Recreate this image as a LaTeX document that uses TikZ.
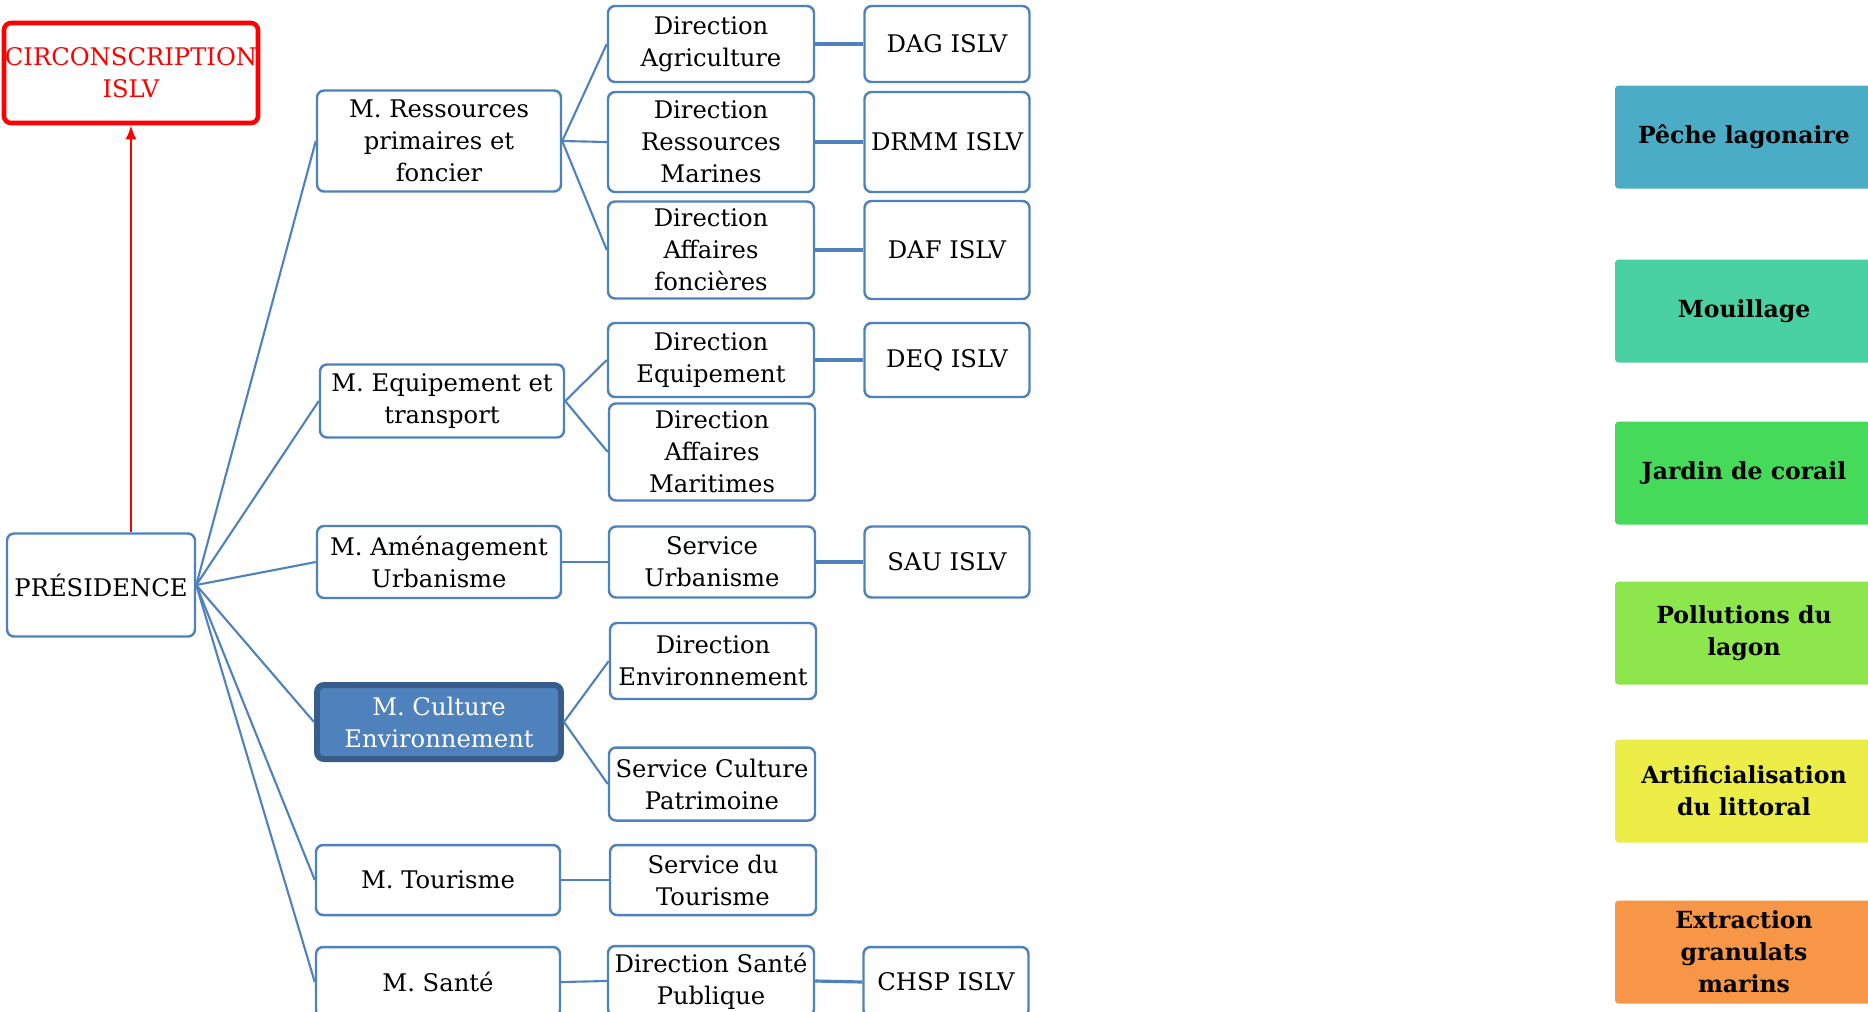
\documentclass[tikz,border=0pt]{standalone}
\usepackage{fontspec}
\setmainfont{DejaVu Serif}
\usetikzlibrary{arrows.meta}

\definecolor{orgblue}{HTML}{4F81BD}
\definecolor{orgdark}{HTML}{385D8A}
\definecolor{peche}{HTML}{4BACC6}
\definecolor{mouil}{HTML}{49D1A3}
\definecolor{jardin}{HTML}{46DA5A}
\definecolor{pollu}{HTML}{8DE64B}
\definecolor{artif}{HTML}{EDED47}
\definecolor{extra}{HTML}{F79646}

\tikzset{
  every node/.style={font=\fontsize{6.9}{9.1}\selectfont, align=center, inner sep=0pt},
  unit/.style={draw=orgblue, line width=0.7pt, rounded corners=2pt, fill=white, minimum height=#1},
  ministry/.style={unit=#1, minimum width=24.4mm},
  direction/.style={unit=#1, minimum width=20.6mm},
  islv/.style={unit=#1, minimum width=16.5mm},
  threat/.style={fill=#1, rounded corners=1pt, minimum width=25.8mm, minimum height=10.3mm,
    font=\fontsize{6.7}{9.1}\selectfont\bfseries},
  link/.style={draw=orgblue, line width=0.6pt},
}

\begin{document}
\begin{tikzpicture}[x=0.1mm,y=-0.1mm]
        \useasboundingbox (0,0) rectangle (1868,1011);

        % Top
        \node[draw=red, line width=1.3pt, rounded corners=2pt, text=red,
              minimum width=25.4mm, minimum height=10mm] (circ) at (131,73) {CIRCONSCRIPTION\\ISLV};
        \node[unit=10.3mm, minimum width=18.8mm] (pres) at (101,585) {PRÉSIDENCE};

        % Ministries
        \node[ministry=10.1mm] (mres) at (439,141) {M. Ressources\\primaires et\\foncier};
        \node[ministry=7.3mm]  (mequ) at (442,401) {M. Equipement et\\transport};
        \node[ministry=7.2mm]  (mame) at (439,562) {M. Aménagement\\Urbanisme};
        \node[ministry=7.4mm, fill=orgblue, draw=orgdark, line width=1.7pt, text=white]
                               (mcul) at (439,722) {M. Culture\\Environnement};
        \node[ministry=7mm]    (mtou) at (438,880) {M. Tourisme};
        \node[ministry=7mm]    (msan) at (438,982) {M. Santé};

        % Directions
        \node[direction=7.6mm]  (dagr) at (711,44)  {Direction\\Agriculture};
        \node[direction=10mm]   (drmm) at (711,142) {Direction\\Ressources\\Marines};
        \node[direction=9.7mm]  (dafo) at (711,250) {Direction\\Affaires\\foncières};
        \node[direction=7.4mm]  (dequ) at (711,360) {Direction\\Equipement};
        \node[direction=9.7mm]  (dama) at (712,452) {Direction\\Affaires\\Maritimes};
        \node[direction=7.1mm]  (surb) at (712,562) {Service\\Urbanisme};
        \node[direction=7.6mm]  (denv) at (713,661) {Direction\\Environnement};
        \node[direction=7.3mm]  (scul) at (712,784) {Service Culture\\Patrimoine};
        \node[direction=7mm]    (stou) at (713,880) {Service du\\Tourisme};
        \node[direction=7mm]    (dsan) at (711,981) {Direction Santé\\Publique};

        % ISLV services
        \node[islv=7.6mm] (dag)  at (947,44)  {DAG ISLV};
        \node[islv=10mm]  (drm)  at (947,142) {DRMM ISLV};
        \node[islv=9.8mm] (daf)  at (947,250) {DAF ISLV};
        \node[islv=7.4mm] (deq)  at (947,360) {DEQ ISLV};
        \node[islv=7.1mm] (sau)  at (947,562) {SAU ISLV};
        \node[islv=7mm]   (chsp) at (946,982) {CHSP ISLV};

        % Threats
        \node[threat=peche] (t1) at (1744,137) {Pêche lagonaire};
        \node[threat=mouil] (t2) at (1744,311) {Mouillage};
        \node[threat=jardin] (t3) at (1744,473) {Jardin de corail};
        \node[threat=pollu] (t4) at (1744,633) {Pollutions du\\lagon};
        \node[threat=artif] (t5) at (1744,791) {Artificialisation\\du littoral};
        \node[threat=extra] (t6) at (1744,952) {Extraction\\granulats\\marins};

        % Links
        \draw[red, line width=0.6pt, -{Latex[length=1.4mm,width=1.1mm]}] (pres.north -| circ.south) -- (circ.south);
        \foreach \m in {mres,mequ,mame,mcul,mtou,msan}
          \draw[link] (pres.east) -- (\m.west);
        \foreach \a/\b in {mres/dagr, mres/drmm, mres/dafo, mequ/dequ, mequ/dama,
                           mame/surb, mcul/denv, mcul/scul, mtou/stou, msan/dsan}
          \draw[link] (\a.east) -- (\b.west);
        \foreach \a/\b in {dagr/dag, drmm/drm, dafo/daf, dequ/deq, surb/sau, dsan/chsp}
          \draw[link, line width=0.9pt] (\a.east) -- (\b.west);
    \end{tikzpicture}
\end{document}
